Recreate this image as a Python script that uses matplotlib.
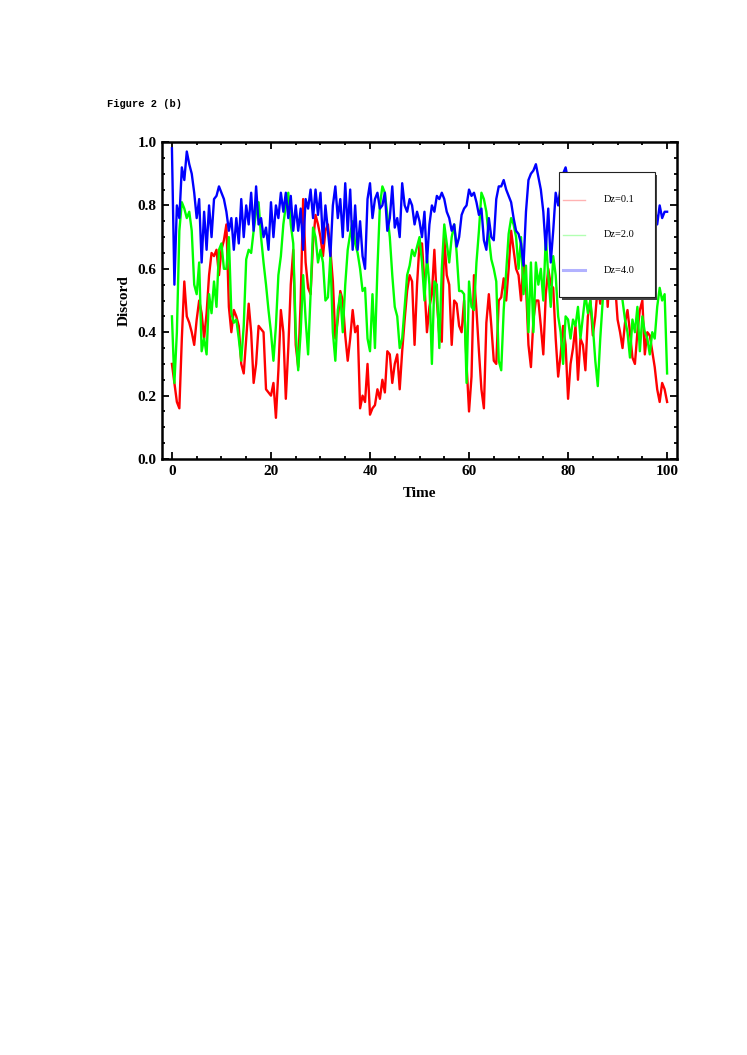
import matplotlib

matplotlib.use("Agg")
import matplotlib.pyplot as plt
import numpy as np
from matplotlib.patches import Rectangle
from matplotlib.ticker import MultipleLocator

# time grid (step 0.5)
time = np.arange(0, 100.01, 0.5)

# Dz = 0.1
discord_dz01 = [
    0.30, 0.24, 0.18, 0.16, 0.38, 0.56, 0.45, 0.43, 0.40, 0.36,
    0.44, 0.50, 0.46, 0.38, 0.46, 0.58, 0.65, 0.64, 0.66, 0.58,
    0.66, 0.69, 0.74, 0.48, 0.40, 0.47, 0.45, 0.42, 0.30, 0.27,
    0.38, 0.49, 0.40, 0.24, 0.30, 0.42, 0.41, 0.40, 0.22, 0.21,
    0.20, 0.24, 0.13, 0.28, 0.47, 0.40, 0.19, 0.35, 0.55, 0.66,
    0.36, 0.29, 0.50, 0.82, 0.62, 0.54, 0.52, 0.68, 0.77, 0.74,
    0.70, 0.64, 0.72, 0.74, 0.66, 0.56, 0.38, 0.44, 0.53, 0.50,
    0.39, 0.31, 0.38, 0.47, 0.40, 0.42, 0.16, 0.20, 0.18, 0.30,
    0.14, 0.16, 0.17, 0.22, 0.19, 0.25, 0.21, 0.34, 0.33, 0.24,
    0.30, 0.33, 0.22, 0.34, 0.44, 0.53, 0.58, 0.56, 0.36, 0.55,
    0.68, 0.68, 0.55, 0.40, 0.48, 0.52, 0.66, 0.50, 0.39, 0.37,
    0.70, 0.58, 0.55, 0.36, 0.50, 0.49, 0.42, 0.40, 0.50, 0.30,
    0.15, 0.26, 0.58, 0.47, 0.34, 0.22, 0.16, 0.43, 0.52, 0.42,
    0.31, 0.30, 0.50, 0.51, 0.57, 0.50, 0.60, 0.72, 0.66, 0.60,
    0.58, 0.50, 0.63, 0.55, 0.36, 0.29, 0.44, 0.50, 0.50, 0.42,
    0.33, 0.52, 0.60, 0.55, 0.54, 0.38, 0.26, 0.33, 0.42, 0.36,
    0.19, 0.30, 0.35, 0.42, 0.25, 0.38, 0.36, 0.28, 0.45, 0.50,
    0.39, 0.45, 0.55, 0.49, 0.58, 0.64, 0.48, 0.62, 0.70, 0.55,
    0.44, 0.40, 0.35, 0.43, 0.47, 0.40, 0.32, 0.30, 0.40, 0.47,
    0.50, 0.33, 0.40, 0.39, 0.34, 0.29, 0.22, 0.18, 0.24, 0.22,
    0.18,
]

# Dz = 2.0
discord_dz20 = [
    0.45, 0.24, 0.40, 0.72, 0.81, 0.79, 0.76, 0.78, 0.72, 0.55,
    0.52, 0.62, 0.34, 0.38, 0.33, 0.52, 0.46, 0.56, 0.48, 0.66,
    0.68, 0.60, 0.60, 0.70, 0.46, 0.43, 0.44, 0.38, 0.31, 0.42,
    0.63, 0.66, 0.65, 0.72, 0.78, 0.81, 0.70, 0.62, 0.55, 0.47,
    0.40, 0.31, 0.42, 0.58, 0.64, 0.74, 0.80, 0.84, 0.74, 0.68,
    0.40, 0.28, 0.40, 0.58, 0.44, 0.33, 0.52, 0.73, 0.70, 0.62,
    0.66, 0.62, 0.50, 0.51, 0.64, 0.40, 0.31, 0.47, 0.52, 0.40,
    0.55, 0.66, 0.71, 0.75, 0.68, 0.65, 0.60, 0.53, 0.54, 0.38,
    0.34, 0.52, 0.35, 0.60, 0.80, 0.86, 0.84, 0.77, 0.70, 0.58,
    0.48, 0.45, 0.35, 0.38, 0.48, 0.58, 0.61, 0.66, 0.64, 0.67,
    0.70, 0.62, 0.50, 0.64, 0.55, 0.30, 0.56, 0.55, 0.35, 0.60,
    0.74, 0.68, 0.62, 0.70, 0.74, 0.65, 0.53, 0.53, 0.52, 0.24,
    0.56, 0.48, 0.47, 0.62, 0.72, 0.84, 0.82, 0.78, 0.70, 0.63,
    0.60, 0.56, 0.31, 0.28, 0.47, 0.59, 0.71, 0.76, 0.74, 0.70,
    0.60, 0.70, 0.52, 0.61, 0.40, 0.62, 0.40, 0.62, 0.55, 0.60,
    0.50, 0.70, 0.58, 0.48, 0.64, 0.58, 0.45, 0.40, 0.30, 0.45,
    0.44, 0.38, 0.44, 0.42, 0.48, 0.38, 0.45, 0.52, 0.46, 0.50,
    0.42, 0.31, 0.23, 0.38, 0.50, 0.60, 0.55, 0.66, 0.62, 0.58,
    0.52, 0.56, 0.50, 0.44, 0.40, 0.32, 0.44, 0.40, 0.48, 0.34,
    0.45, 0.40, 0.38, 0.33, 0.40, 0.38, 0.48, 0.54, 0.50, 0.52,
    0.27,
]

# Dz = 4.0
discord_dz40 = [
    0.98, 0.55, 0.80, 0.76, 0.92, 0.88, 0.97, 0.93, 0.90, 0.84,
    0.76, 0.82, 0.62, 0.78, 0.66, 0.80, 0.70, 0.82, 0.83, 0.86,
    0.84, 0.82, 0.78, 0.72, 0.76, 0.66, 0.76, 0.68, 0.82, 0.70,
    0.80, 0.74, 0.84, 0.72, 0.86, 0.74, 0.76, 0.70, 0.73, 0.66,
    0.81, 0.70, 0.80, 0.76, 0.84, 0.78, 0.84, 0.76, 0.83, 0.72,
    0.80, 0.72, 0.79, 0.66, 0.82, 0.79, 0.85, 0.76, 0.85, 0.77,
    0.84, 0.68, 0.80, 0.72, 0.64, 0.80, 0.86, 0.76, 0.82, 0.70,
    0.87, 0.72, 0.85, 0.66, 0.80, 0.66, 0.75, 0.64, 0.60, 0.82,
    0.87, 0.76, 0.82, 0.84, 0.79, 0.80, 0.84, 0.72, 0.76, 0.86,
    0.73, 0.76, 0.70, 0.87, 0.80, 0.78, 0.82, 0.80, 0.74, 0.78,
    0.75, 0.70, 0.78, 0.62, 0.74, 0.80, 0.78, 0.83, 0.82, 0.84,
    0.82, 0.78, 0.76, 0.72, 0.74, 0.67, 0.70, 0.77, 0.79, 0.80,
    0.85, 0.83, 0.84, 0.81, 0.77, 0.79, 0.69, 0.66, 0.76, 0.70,
    0.69, 0.82, 0.86, 0.86, 0.88, 0.85, 0.83, 0.81, 0.76, 0.72,
    0.71, 0.68, 0.61, 0.78, 0.88, 0.90, 0.91, 0.93, 0.89, 0.85,
    0.78, 0.66, 0.79, 0.62, 0.72, 0.84, 0.80, 0.86, 0.90, 0.92,
    0.88, 0.78, 0.84, 0.74, 0.80, 0.70, 0.82, 0.76, 0.84, 0.72,
    0.80, 0.74, 0.82, 0.70, 0.80, 0.76, 0.84, 0.72, 0.82, 0.75,
    0.80, 0.70, 0.82, 0.76, 0.84, 0.72, 0.80, 0.74, 0.82, 0.76,
    0.80, 0.72, 0.82, 0.76, 0.82, 0.80, 0.74, 0.80, 0.76, 0.78,
    0.78,
]

series_labels = ["Dz=0.1", "Dz=2.0", "Dz=4.0"]
series_colors = ["#ff0000", "#00ff00", "#0000ff"]
x_ticks = [0, 20, 40, 60, 80, 100]
y_ticks = [0.0, 0.2, 0.4, 0.6, 0.8, 1.0]

serif = "Liberation Serif"

fig = plt.figure(figsize=(7.47, 10.55), dpi=100)
ax = fig.add_axes([0.2169, 0.5649, 0.6894, 0.3005])

for values, color in zip([discord_dz01, discord_dz20, discord_dz40], series_colors):
    ax.plot(time, values, color=color, lw=1.7, solid_joinstyle="round")

ax.set_xlim(-2, 102)
ax.set_ylim(0, 1)
ax.set_xticks(x_ticks)
ax.set_xticklabels([str(v) for v in x_ticks])
ax.set_yticks(y_ticks)
ax.set_yticklabels([f"{v:.1f}" for v in y_ticks])
ax.xaxis.set_minor_locator(MultipleLocator(5))
ax.yaxis.set_minor_locator(MultipleLocator(0.05))
ax.tick_params(which="both", direction="in", top=True, right=True, width=1.3)
ax.tick_params(which="major", length=5, pad=4)
ax.tick_params(which="minor", length=2.5)
for label in ax.get_xticklabels() + ax.get_yticklabels():
    label.set_fontfamily(serif)
    label.set_fontweight("bold")
    label.set_fontsize(11)
for spine in ax.spines.values():
    spine.set_linewidth(1.8)

ax.set_xlabel("Time", fontfamily=serif, fontweight="bold", fontsize=11, labelpad=7)
ax.set_ylabel("Discord", fontfamily=serif, fontweight="bold", fontsize=11, labelpad=5)

# legend box drawn by hand so its padding matches the original
box_x0, box_y0, box_w, box_h = 0.771, 0.511, 0.186, 0.394
ax.add_patch(Rectangle((box_x0 + 0.005, box_y0 - 0.008), box_w, box_h,
                       transform=ax.transAxes, facecolor="#444444",
                       edgecolor="none", zorder=5))
ax.add_patch(Rectangle((box_x0, box_y0), box_w, box_h, transform=ax.transAxes,
                       facecolor="white", edgecolor="#222222", lw=0.8, zorder=6))
row_y = [0.818, 0.707, 0.596]
handle_widths = [1.0, 1.0, 2.2]
for label, color, y, hw in zip(series_labels, series_colors, row_y, handle_widths):
    ax.plot([0.779, 0.821], [y, y], transform=ax.transAxes, color=color,
            alpha=0.3, lw=hw, zorder=7)
    ax.text(0.858, y, label, transform=ax.transAxes, fontfamily=serif,
            fontsize=7.5, va="center", ha="left", zorder=7)

fig.text(0.143, 0.9014, "Figure 2 (b)", fontfamily="Liberation Mono",
         fontweight="bold", fontsize=7.5, va="center", ha="left")

fig.savefig("out.png", dpi=100)
